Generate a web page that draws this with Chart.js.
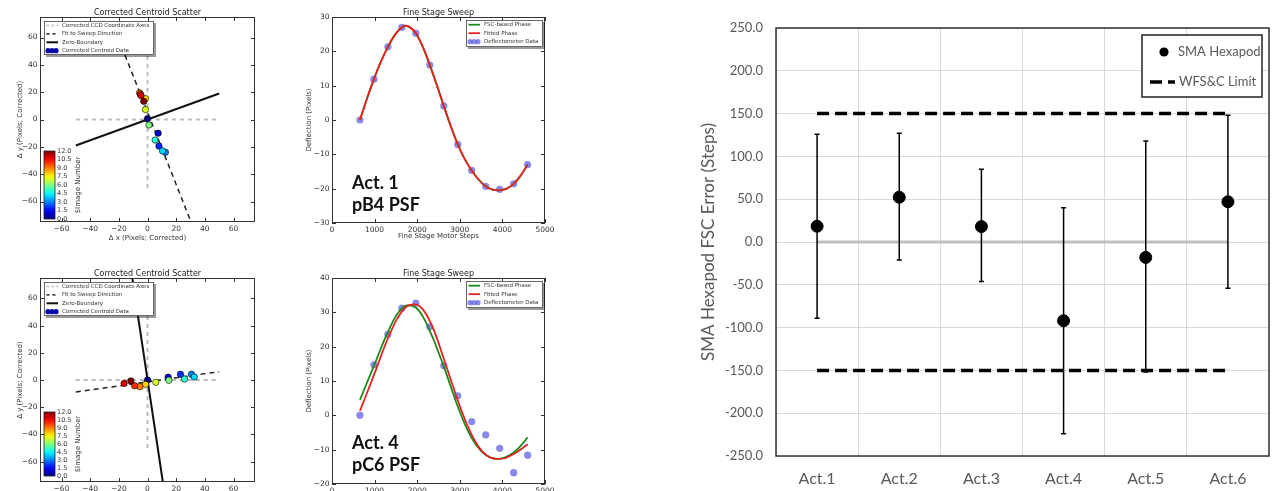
<!DOCTYPE html>
<html>
<head>
<meta charset="utf-8">
<title>SMA Hexapod FSC Error</title>
<script src="https://cdn.jsdelivr.net/npm/chart.js@4.4.1/dist/chart.umd.min.js"></script>
<style>
  html, body { margin: 0; padding: 0; background: #fff; overflow: hidden; width: 1276px; height: 491px; }
  canvas { position: absolute; }
  .tag { position: absolute; font: bold 18px Lato, sans-serif; line-height: 22px; color: #111; white-space: nowrap; }
</style>
</head>
<body>
<canvas id="scatter1" width="290" height="245" style="left:0;top:0"></canvas>
<canvas id="sweep1" width="300" height="245" style="left:290px;top:0"></canvas>
<canvas id="scatter4" width="290" height="275" style="left:0;top:245px"></canvas>
<canvas id="sweep4" width="300" height="275" style="left:290px;top:245px"></canvas>
<canvas id="hexapod" width="586" height="491" style="left:690px;top:0"></canvas>
<div class="tag" style="left:352px;top:171px">Act. 1<br>pB4 PSF</div>
<div class="tag" style="left:352px;top:431px">Act. 4<br>pC6 PSF</div>
<script>
// ---- centroid scatter, Act. 1 (pB4 PSF) ----
const act1ImageNo = [0, 1, 2, 3, 4, 5, 6, 7, 8, 9, 10, 11, 12];
const act1CentroidX = [0, 7.4, 8, 12.5, 10.5, 5.3, 1, -1.4, -1.4, -5.5, -5, -4.5, -2.6];
const act1CentroidY = [0.5, -10, -19.4, -24, -23, -15, -4, 7.3, 15.3, 19.5, 18.5, 17.5, 13.3];
const act1FitX = [-25, 30];
const act1FitY = [71.7, -74];
const act1ZeroX = [-50, 50];
const act1ZeroY = [-19, 19];

// ---- centroid scatter, Act. 4 (pC6 PSF) ----
const act4ImageNo = [0, 1, 2, 3, 4, 5, 6, 7, 8, 9, 10, 11, 12];
const act4CentroidX = [0, 14.4, 23, 30.7, 32.6, 25.8, 14.9, 5.8, -1.4, -5.3, -9, -16.3, -11.6];
const act4CentroidY = [0, 2, 4.2, 4.2, 2.2, 0.7, -0.2, -1.7, -3.2, -4.9, -4.2, -2.5, -0.7];
const act4FitX = [-50, 50];
const act4FitY = [-8.8, 6.1];
const act4ZeroX = [-10.6, 10.7];
const act4ZeroY = [75, -75];

// CCD coordinate axes (both scatters)
const ccdAxisHX = [-50, 50], ccdAxisHY = [0, 0];
const ccdAxisVX = [0, 0], ccdAxisVY = [-50, 50];
const scatterTicks = [-60, -40, -20, 0, 20, 40, 60];
const cbarTicks = [0, 1.5, 3, 4.5, 6, 7.5, 9, 10.5, 12];

// ---- fine stage sweeps ----
const sweepSteps = [656, 984, 1312, 1640, 1968, 2296, 2624, 2952, 3280, 3608, 3936, 4264, 4592];
const act1Deflection = [0, 11.9, 21.3, 27.0, 25.3, 16.0, 4.1, -7.1, -14.7, -19.3, -20.2, -18.6, -13.0];
const act4Deflection = [0, 14.7, 23.6, 31.2, 32.7, 25.8, 14.5, 5.7, -1.8, -5.7, -9.6, -16.7, -11.6];

const act1CurveSteps = [656, 820, 984, 1148, 1312, 1476, 1640, 1711, 1804, 1968, 2132, 2296, 2460, 2624, 2788, 2952, 3116, 3280, 3444, 3608, 3772, 3898, 4100, 4264, 4428, 4592];
const act1Fitted = [0, 6.2, 11.9, 17.0, 21.3, 24.8, 27.0, 27.5, 27.2, 25.3, 21.3, 16.0, 10.2, 4.1, -1.8, -7.1, -11.4, -14.7, -17.4, -19.3, -20.3, -20.5, -20.0, -18.6, -16.2, -13.0];
const act1FscPhase = [0, 6.2, 11.9, 17.0, 21.3, 24.8, 27.0, 27.5, 27.2, 25.3, 21.3, 16.0, 10.2, 4.1, -1.8, -7.1, -11.4, -14.7, -17.4, -19.3, -20.3, -20.5, -20.0, -18.6, -16.2, -13.0];

const act4CurveSteps = [656, 1000, 1281, 1516, 1750, 1945, 2141, 2375, 2648, 2922, 3156, 3391, 3625, 3859, 4055, 4289, 4445, 4592];
const act4FscPhase = [4.5, 14.9, 23.4, 29.2, 32.0, 31.6, 28.6, 22.3, 13.4, 3.6, -3.6, -8.8, -11.7, -12.7, -12.3, -10.6, -8.7, -6.4];
const act4Fitted = [1.3, 12.2, 21.5, 27.8, 31.7, 32.3, 30.7, 25.3, 15.6, 5.4, -2.3, -8.2, -11.6, -12.7, -12.5, -11.1, -9.8, -8.4];

const sweepXTicks = [0, 1000, 2000, 3000, 4000, 5000];
const act1YTicks = [-30, -20, -10, 0, 10, 20, 30];
const act4YTicks = [-20, -10, 0, 10, 20, 30, 40];

// ---- SMA hexapod summary ----
const actuators = ['Act.1', 'Act.2', 'Act.3', 'Act.4', 'Act.5', 'Act.6'];
const hexapodError = [18.4, 52.3, 18.0, -92, -18, 47];
const errorHigh = [126, 127, 85, 40, 118, 148];
const errorLow = [-89, -21, -46, -224, -152, -54];
const limitHigh = [150, 150, 150, 150, 150, 150];
const limitLow = [-150, -150, -150, -150, -150, -150];
const zeroLine = [0, 0, 0, 0, 0, 0];

const MPL_FONT = '"DejaVu Sans", sans-serif';
const minus = v => String(v).replace('-', '\u2212');
const pts = (xs, ys) => xs.map((x, i) => ({ x, y: ys[i] }));

// jet colormap, t in 0..1
function jet(t) {
  const c = k => Math.round(255 * Math.min(1, Math.max(0, 1.5 - Math.abs(4 * t - k))));
  return `rgb(${c(3)},${c(2)},${c(1)})`;
}

function drawLegend(ctx, a, lg) {
  const b = lg.box(a);
  ctx.fillStyle = 'rgba(0,0,0,0.4)';
  ctx.fillRect(b.x + 2, b.y + 2, b.w, b.h);
  ctx.fillStyle = '#fff';
  ctx.fillRect(b.x, b.y, b.w, b.h);
  ctx.strokeStyle = '#444';
  ctx.lineWidth = 0.8;
  ctx.strokeRect(b.x + 0.5, b.y + 0.5, b.w - 1, b.h - 1);
  ctx.font = '5.5px ' + MPL_FONT;
  ctx.textAlign = 'left';
  ctx.textBaseline = 'middle';
  lg.items.forEach((it, i) => {
    const yy = b.y + lg.first + lg.step * i;
    if (it.dots) {
      ctx.fillStyle = it.color;
      [4, 8, 12].forEach(dx => { ctx.beginPath(); ctx.arc(b.x + dx, yy, 2.6, 0, Math.PI * 2); ctx.fill(); });
    } else {
      ctx.strokeStyle = it.color;
      ctx.lineWidth = it.width;
      ctx.setLineDash(it.dash || []);
      ctx.beginPath(); ctx.moveTo(b.x + 2.5, yy); ctx.lineTo(b.x + 14, yy); ctx.stroke();
      ctx.setLineDash([]);
    }
    ctx.fillStyle = '#333';
    ctx.fillText(it.label, b.x + 18, yy);
  });
}

function drawColorbar(ctx, a, cb) {
  const x = a.left + 4, y = a.top + cb.top, w = 11, h = cb.h;
  const g = ctx.createLinearGradient(0, y + h, 0, y);
  for (let k = 0; k <= 20; k++) g.addColorStop(k / 20, jet(k / 20));
  ctx.fillStyle = g;
  ctx.fillRect(x, y, w, h);
  ctx.strokeStyle = '#222';
  ctx.lineWidth = 0.8;
  ctx.strokeRect(x, y, w, h);
  ctx.fillStyle = '#333';
  ctx.font = '6.5px ' + MPL_FONT;
  ctx.textAlign = 'left';
  ctx.textBaseline = 'middle';
  const top = cbarTicks[cbarTicks.length - 1];
  cbarTicks.forEach(v => ctx.fillText(v.toFixed(1), x + w + 2, y + h - h * v / top));
  ctx.save();
  ctx.translate(x + 34, y + h / 2);
  ctx.rotate(-Math.PI / 2);
  ctx.textAlign = 'center';
  ctx.font = '7px ' + MPL_FONT;
  ctx.fillText('$Image Number', 0, 0);
  ctx.restore();
}

// matplotlib-like frame, inward ticks, title, colorbar and legend
const mplPanel = {
  id: 'mplPanel',
  afterDatasetsDraw(chart, args, o) {
    const { ctx, chartArea: a } = chart;
    const sx = chart.scales.x, sy = chart.scales.y;
    ctx.save();
    ctx.strokeStyle = '#333';
    ctx.lineWidth = 1;
    ctx.beginPath();
    sx.ticks.forEach(t => {
      const p = Math.round(sx.getPixelForValue(t.value)) + 0.5;
      ctx.moveTo(p, a.bottom); ctx.lineTo(p, a.bottom - 4);
      ctx.moveTo(p, a.top); ctx.lineTo(p, a.top + 4);
    });
    sy.ticks.forEach(t => {
      const p = Math.round(sy.getPixelForValue(t.value)) + 0.5;
      ctx.moveTo(a.left, p); ctx.lineTo(a.left + 4, p);
      ctx.moveTo(a.right, p); ctx.lineTo(a.right - 4, p);
    });
    ctx.stroke();
    ctx.strokeRect(a.left + 0.5, a.top + 0.5, a.width - 1, a.height - 1);
    ctx.fillStyle = '#222';
    ctx.font = '8px ' + MPL_FONT;
    ctx.textAlign = 'center';
    ctx.textBaseline = 'alphabetic';
    ctx.fillText(o.title, (a.left + a.right) / 2, a.top - 2.5);
    if (o.colorbar) drawColorbar(ctx, a, o.colorbar);
    if (o.legend) drawLegend(ctx, a, o.legend);
    ctx.restore();
  }
};

function mplAxis(min, max, ticks, size, title, titlePad) {
  return {
    type: 'linear', min, max,
    afterBuildTicks: s => { s.ticks = ticks.map(v => ({ value: v })); },
    afterFit: s => { if (s.isHorizontal()) s.height = size; else s.width = size; },
    grid: { display: false, drawTicks: false },
    border: { display: false },
    ticks: { color: '#333', font: { family: MPL_FONT, size: 7.5 }, padding: 2.5, callback: v => minus(v) },
    title: { display: true, text: title, color: '#333', font: { family: MPL_FONT, size: 7 }, padding: titlePad }
  };
}

const scatterLegend = {
  box: a => ({ x: a.left + 4, y: a.top + 4, w: 110, h: 34 }),
  first: 4.5, step: 8.4,
  items: [
    { label: 'Corrected CCD Coordinate Axes', color: '#bbb', width: 1.6, dash: [2.5, 2.5] },
    { label: 'Fit to Sweep Direction', color: '#111', width: 1.4, dash: [3, 3] },
    { label: 'Zero-Boundary', color: '#111', width: 2 },
    { label: 'Corrected Centroid Data', color: '#0a0aa8', dots: true }
  ]
};

const sweepLegend = {
  box: a => ({ x: a.right - 79, y: a.top + 3, w: 77, h: 27 }),
  first: 4.7, step: 8.5,
  items: [
    { label: 'FSC-based Phase', color: '#178a17', width: 1.8 },
    { label: 'Fitted Phase', color: '#e8211f', width: 1.8 },
    { label: 'Deflectometer Data', color: 'rgba(40,40,220,0.55)', dots: true }
  ]
};

function centroidChart(id, d) {
  const lineSet = (xs, ys, color, width, dash) => ({
    data: pts(xs, ys), showLine: true, pointRadius: 0, borderColor: color,
    borderWidth: width, borderDash: dash || [], borderCapStyle: 'butt'
  });
  return new Chart(document.getElementById(id), {
    type: 'scatter',
    data: {
      datasets: [
        {
          data: pts(d.xs, d.ys), pointRadius: 3.2, pointBorderWidth: 0.6, pointBorderColor: '#000',
          pointBackgroundColor: d.img.map(n => jet(n / 12))
        },
        lineSet(d.zeroX, d.zeroY, '#111', 2),
        lineSet(d.fitX, d.fitY, '#222', 1.5, [5, 4]),
        lineSet(ccdAxisHX, ccdAxisHY, '#bbb', 2, [4, 4]),
        lineSet(ccdAxisVX, ccdAxisVY, '#bbb', 2, [4, 4])
      ]
    },
    options: {
      responsive: false, animation: false, events: [],
      layout: { padding: { top: d.top, right: 35, left: 0, bottom: 0 } },
      scales: {
        x: mplAxis(-75, 75, scatterTicks, d.xh, '\u0394 x (Pixels; Corrected)', { top: 0, bottom: 2.5 }),
        y: mplAxis(-75, 75, scatterTicks, 40, '\u0394 y (Pixels; Corrected)', { top: 16, bottom: 0 })
      },
      plugins: {
        legend: { display: false }, tooltip: { enabled: false },
        mplPanel: { title: 'Corrected Centroid Scatter', legend: scatterLegend, colorbar: { top: 134, h: d.cbh } }
      }
    },
    plugins: [mplPanel]
  });
}

function sweepChart(id, d) {
  const curve = (ys, color) => ({
    data: pts(d.curveX, ys), showLine: true, pointRadius: 0, borderColor: color,
    borderWidth: 1.8, cubicInterpolationMode: 'monotone'
  });
  return new Chart(document.getElementById(id), {
    type: 'scatter',
    data: {
      datasets: [
        curve(d.fitted, '#e8211f'),
        curve(d.fsc, '#178a17'),
        { data: pts(sweepSteps, d.data), pointRadius: 3.6, pointBorderWidth: 0, pointBackgroundColor: 'rgba(40,40,220,0.55)' }
      ]
    },
    options: {
      responsive: false, animation: false, events: [],
      layout: { padding: { top: d.top, right: 45, left: 0, bottom: 0 } },
      scales: {
        x: mplAxis(0, 5000, sweepXTicks, d.xh, 'Fine Stage Motor Steps', { top: 0, bottom: 4.8 }),
        y: mplAxis(d.ymin, d.ymax, d.yticks, 42, 'Deflection (Pixels)', { top: 15, bottom: 0 })
      },
      plugins: {
        legend: { display: false }, tooltip: { enabled: false },
        mplPanel: { title: 'Fine Stage Sweep', legend: sweepLegend }
      }
    },
    plugins: [mplPanel]
  });
}

centroidChart('scatter1', {
  xs: act1CentroidX, ys: act1CentroidY, img: act1ImageNo,
  fitX: act1FitX, fitY: act1FitY, zeroX: act1ZeroX, zeroY: act1ZeroY,
  top: 17, xh: 23, cbh: 68
});
centroidChart('scatter4', {
  xs: act4CentroidX, ys: act4CentroidY, img: act4ImageNo,
  fitX: act4FitX, fitY: act4FitY, zeroX: act4ZeroX, zeroY: act4ZeroY,
  top: 33, xh: 38, cbh: 64
});
sweepChart('sweep1', {
  curveX: act1CurveSteps, fitted: act1Fitted, fsc: act1FscPhase, data: act1Deflection,
  ymin: -30, ymax: 30, yticks: act1YTicks, top: 17, xh: 22
});
sweepChart('sweep4', {
  curveX: act4CurveSteps, fitted: act4Fitted, fsc: act4FscPhase, data: act4Deflection,
  ymin: -20, ymax: 40, yticks: act4YTicks, top: 33, xh: 36
});

// ---- right panel: error bars, frame and legend ----
const hexapodDecor = {
  id: 'hexapodDecor',
  afterDatasetDraw(chart, args) {
    if (args.index !== 3) return; // right after the grey zero line
    const { ctx } = chart;
    const sx = chart.scales.x, sy = chart.scales.y;
    ctx.save();
    ctx.strokeStyle = '#000';
    ctx.lineWidth = 1.5;
    actuators.forEach((c, i) => {
      const px = sx.getPixelForValue(i);
      const top = sy.getPixelForValue(errorHigh[i]);
      const bot = sy.getPixelForValue(errorLow[i]);
      ctx.beginPath();
      ctx.moveTo(px, top); ctx.lineTo(px, bot);
      ctx.moveTo(px - 2.5, top); ctx.lineTo(px + 2.5, top);
      ctx.moveTo(px - 2.5, bot); ctx.lineTo(px + 2.5, bot);
      ctx.stroke();
    });
    ctx.restore();
  },
  afterDraw(chart) {
    const { ctx, chartArea: a } = chart;
    ctx.save();
    ctx.strokeStyle = '#333';
    ctx.lineWidth = 1.5;
    ctx.strokeRect(a.left, a.top, a.width, a.height);
    const b = { x: a.right - 127, y: a.top + 7, w: 120, h: 62 };
    ctx.fillStyle = '#fff';
    ctx.fillRect(b.x, b.y, b.w, b.h);
    ctx.strokeStyle = '#222';
    ctx.strokeRect(b.x, b.y, b.w, b.h);
    ctx.fillStyle = '#000';
    ctx.beginPath(); ctx.arc(b.x + 22, b.y + 17, 4.6, 0, Math.PI * 2); ctx.fill();
    ctx.strokeStyle = '#000';
    ctx.lineWidth = 3.5;
    ctx.setLineDash([12, 6]);
    ctx.beginPath(); ctx.moveTo(b.x + 8, b.y + 47); ctx.lineTo(b.x + 33, b.y + 47); ctx.stroke();
    ctx.setLineDash([]);
    ctx.fillStyle = '#595959';
    ctx.font = '13px Lato, sans-serif';
    ctx.textAlign = 'left';
    ctx.textBaseline = 'middle';
    ctx.fillText('SMA Hexapod', b.x + 36, b.y + 17);
    ctx.fillText('WFS&C Limit', b.x + 37, b.y + 47);
    ctx.restore();
  }
};

const limitSet = vals => ({
  data: vals, borderColor: '#000', borderWidth: 3.5, borderDash: [12, 6],
  borderCapStyle: 'butt', pointRadius: 0, fill: false
});

new Chart(document.getElementById('hexapod'), {
  type: 'line',
  data: {
    labels: actuators,
    datasets: [
      { label: 'SMA Hexapod', data: hexapodError, showLine: false, pointRadius: 6, pointBackgroundColor: '#000', pointBorderColor: '#000' },
      limitSet(limitHigh),
      limitSet(limitLow),
      { data: zeroLine, borderColor: '#bfbfbf', borderWidth: 3, pointRadius: 0 }
    ]
  },
  options: {
    responsive: false, animation: false, events: [],
    layout: { padding: { top: 28, right: 2, left: 0, bottom: 0 } },
    scales: {
      x: {
        type: 'category', offset: true,
        afterFit: s => { s.height = 35; },
        grid: { offset: true, color: '#d9d9d9', drawTicks: false },
        border: { display: false },
        ticks: { color: '#595959', font: { family: 'Lato', size: 16 }, padding: 13 }
      },
      y: {
        min: -250, max: 250,
        afterFit: s => { s.width = 86; },
        grid: { color: '#d9d9d9', drawTicks: false },
        border: { display: false },
        ticks: { stepSize: 50, color: '#595959', font: { family: 'Lato', size: 13 }, padding: 13, callback: v => v.toFixed(1) },
        title: { display: true, text: 'SMA Hexapod FSC Error (Steps)', color: '#595959', font: { family: 'Lato', size: 17 }, padding: { top: 8, bottom: 0 } }
      }
    },
    plugins: { legend: { display: false }, tooltip: { enabled: false } }
  },
  plugins: [hexapodDecor]
});
</script>
</body>
</html>
